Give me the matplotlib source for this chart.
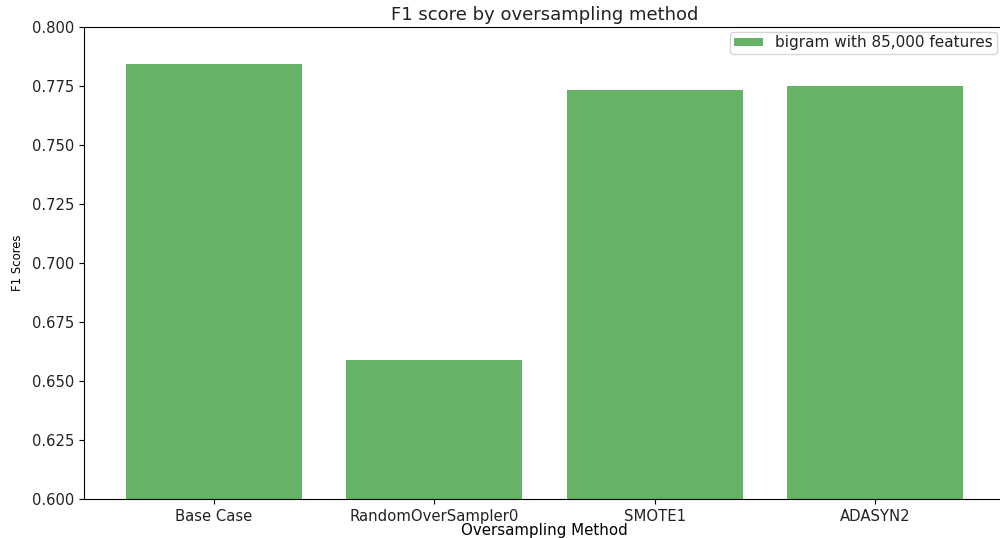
import matplotlib
matplotlib.use("Agg")
import matplotlib.pyplot as plt
from matplotlib.ticker import FormatStrFormatter
import numpy as np

methods = ["Base Case", "RandomOverSampler0", "SMOTE1", "ADASYN2"]
f1_scores = [0.784, 0.659, 0.773, 0.775]
series_label = "bigram with 85,000 features"
y_ticks = [0.600, 0.625, 0.650, 0.675, 0.700, 0.725, 0.750, 0.775, 0.800]

text_color = "#222222"
plt.rcParams["text.color"] = text_color
plt.rcParams["xtick.labelcolor"] = text_color
plt.rcParams["ytick.labelcolor"] = text_color

fig = plt.figure(figsize=(10, 5.38), dpi=100)
ax = fig.add_axes([0.084, 0.0716, 0.921, 0.879])

x = np.arange(len(methods))
ax.bar(x, f1_scores, width=0.8, color="g", alpha=0.6, label=series_label)
ax.set_xticks(x)
ax.set_xticklabels(methods, fontsize=10.7)
ax.set_ylim(0.6, 0.8)
ax.set_yticks(y_ticks)
ax.yaxis.set_major_formatter(FormatStrFormatter("%.3f"))
ax.tick_params(axis="y", labelsize=10.6)
ax.set_xlabel("Oversampling Method", fontsize=10.8, labelpad=-1)
ax.set_ylabel("F1 Scores", fontsize=8.4, labelpad=6)
ax.set_title("F1 score by oversampling method", fontsize=13, pad=5)
ax.legend(loc="upper right", fontsize=11, borderpad=0.25,
          handleheight=0.5, handlelength=1.9, borderaxespad=0,
          bbox_to_anchor=(0.997, 1 - 31.5 / 538),
          bbox_transform=fig.transFigure)

fig.savefig("out.png", dpi=100)
